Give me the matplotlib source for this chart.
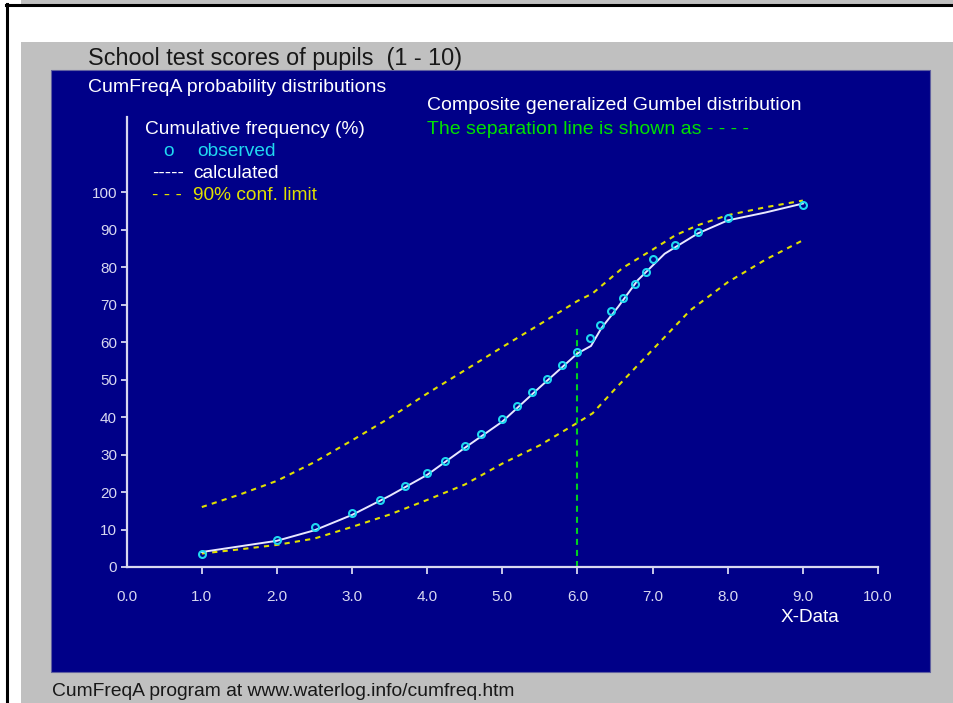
"""
CumFreqA: puntuaciones de examen, distribución Gumbel compuesta
"""

import matplotlib
matplotlib.use("Agg")
import matplotlib.pyplot as plt
from matplotlib.patches import Rectangle

# Datos observados (frecuencia acumulada %)
obs_x = [1.0, 2.0, 2.5, 3.0, 3.37, 3.7, 4.0, 4.24, 4.5, 4.72, 5.0, 5.2, 5.4, 5.6,
         5.8, 6.0, 6.17, 6.3, 6.44, 6.6, 6.77, 6.91, 7.0, 7.3, 7.6, 8.0, 9.0]
obs_y = [3.6, 7.2, 10.7, 14.5, 17.9, 21.7, 25.0, 28.4, 32.2, 35.6, 39.4, 42.9, 46.6, 50.1,
         53.8, 57.3, 61.0, 64.6, 68.2, 71.8, 75.5, 78.8, 82.1, 85.9, 89.4, 93.2, 96.7]

# Curva calculada
calc_x = [1.0, 1.5, 2.0, 2.5, 3.0, 3.5, 4.0, 4.5, 5.0, 5.5, 6.0, 6.18, 6.32, 6.54,
          6.8, 7.16, 7.6, 8.0, 8.5, 9.0]
calc_y = [4.0, 5.5, 7.0, 9.8, 13.9, 19.0, 24.6, 31.8, 38.8, 48.0, 57.0, 59.0, 63.8, 69.4,
          76.5, 83.6, 89.0, 92.5, 94.6, 97.0]

# Límites de confianza 90%
upper_x = [1.0, 1.5, 2.0, 2.5, 3.0, 3.5, 4.0, 4.5, 5.0, 5.5, 6.0, 6.2, 6.6, 7.0,
           7.3, 7.6, 8.0, 8.5, 9.0]
upper_y = [16.0, 19.3, 23.0, 28.0, 33.8, 39.8, 46.3, 52.5, 58.7, 64.8, 71.0, 73.0, 79.8, 84.7,
           88.5, 91.2, 93.9, 96.0, 97.8]
lower_x = [1.0, 1.5, 2.0, 2.5, 3.0, 3.5, 4.0, 4.5, 5.0, 5.5, 6.0, 6.2, 6.5, 7.0,
           7.5, 8.0, 8.5, 9.0]
lower_y = [3.6, 4.7, 5.9, 7.6, 10.7, 14.0, 17.9, 22.0, 27.6, 32.5, 38.5, 41.0, 47.5, 58.0,
           68.5, 76.0, 82.0, 87.2]

# Línea de separación
sep_x = 6.0
sep_top = 63.7

x_ticks = [1, 2, 3, 4, 5, 6, 7, 8, 9, 10]
x_labels = ["0.0", "1.0", "2.0", "3.0", "4.0", "5.0", "6.0", "7.0", "8.0", "9.0", "10.0"]
y_ticks = list(range(0, 101, 10))

W, H = 954, 703
NAVY = "#000088"
GRAY = "#c0c0c0"
AXC = "#d8d8f0"
CYAN = "#20d8f0"
YEL = "#e0e000"
GREEN = "#00d020"
FONT = "Liberation Sans"

fig = plt.figure(figsize=(W / 100, H / 100), dpi=100)

# Fondo en coordenadas de píxel
bg = fig.add_axes([0, 0, 1, 1])
bg.set_xlim(0, W)
bg.set_ylim(H, 0)
bg.axis("off")
bg.add_patch(Rectangle((21, 0), W - 21, 4, color=GRAY, lw=0))
bg.plot([6, W], [4.5, 4.5], color="black", lw=2.2)
bg.plot([7, 7], [4, H], color="black", lw=2.2)
bg.add_patch(Rectangle((21, 42), W - 21, H - 42, color=GRAY, lw=0))
bg.add_patch(Rectangle((51, 70), 930 - 51, 672 - 70, facecolor=NAVY, edgecolor="#6060a0", lw=0.8))

# Textos
bg.text(88, 58, "School test scores of pupils  (1 - 10)", fontsize=16.8, family=FONT,
        color="#181818", va="center", ha="left")
bg.text(88, 87, "CumFreqA probability distributions", fontsize=14, family=FONT,
        color="white", va="center")
bg.text(427, 106, "Composite generalized Gumbel distribution", fontsize=14, family=FONT,
        color="white", va="center")
bg.text(427, 129, "The separation line is shown as - - - -", fontsize=14, family=FONT,
        color="#00e000", va="center")
bg.text(145, 129, "Cumulative frequency (%)", fontsize=13.8, family=FONT, color="white", va="center")
bg.text(163, 151, "o", fontsize=13.8, family=FONT, color=CYAN, va="center")
bg.text(197, 151, "observed", fontsize=13.8, family=FONT, color=CYAN, va="center")
bg.text(152, 173, "-----", fontsize=13.8, family=FONT, color="white", va="center")
bg.text(193, 173, "calculated", fontsize=13.8, family=FONT, color="white", va="center")
bg.text(152, 196, "- - -", fontsize=13.8, family=FONT, color=YEL, va="center")
bg.text(193, 196, "90% conf. limit", fontsize=13.8, family=FONT, color=YEL, va="center")
bg.text(781, 617, "X-Data", fontsize=13.7, family=FONT, color="white", va="center")
bg.text(52, 691, "CumFreqA program at www.waterlog.info/cumfreq.htm", fontsize=13.9, family=FONT,
        color="#181818", va="center")

# Ejes de datos: x 0..10 -> px 126.7..878, y 0..120 -> px 567..117.4
x0, x1 = 126.7, 878.0
y0 = 567.0
py = 3.747
ax = fig.add_axes([x0 / W, (H - y0) / H, (x1 - x0) / W, 120 * py / H])
ax.set_xlim(0, 10)
ax.set_ylim(0, 120)
ax.patch.set_visible(False)
for s in ["top", "right"]:
    ax.spines[s].set_visible(False)
for s in ["left", "bottom"]:
    ax.spines[s].set_color(AXC)
    ax.spines[s].set_linewidth(1.6)

ax.set_yticks(y_ticks)
ax.set_yticklabels([str(v) for v in y_ticks])
ax.set_xticks(x_ticks)
ax.set_xticklabels([])
ax.tick_params(axis="y", colors=AXC, length=4, width=1.3, pad=3, labelsize=11)
ax.tick_params(axis="x", colors=AXC, length=5, width=1.3)
for lab in ax.get_yticklabels():
    lab.set_family(FONT)
    lab.set_color(AXC)

# Etiquetas del eje x (incluye 0.0 sin marca)
for i, lab in enumerate(x_labels):
    ax.text(i, -7.9, lab, ha="center", va="center", fontsize=11, family=FONT, color=AXC)

ax.plot(upper_x, upper_y, color=YEL, lw=1.5, dashes=(2.5, 2.5))
ax.plot(lower_x, lower_y, color=YEL, lw=1.5, dashes=(2.5, 2.5))
ax.plot([sep_x, sep_x], [0, sep_top], color=GREEN, lw=1.5, dashes=(2.9, 2.4))
ax.plot(calc_x, calc_y, color="#e8e8ff", lw=1.4)
ax.plot(obs_x, obs_y, "o", ms=5, mfc="none", mec=CYAN, mew=1.5)

fig.savefig("out.png", dpi=100)
plt.close()
